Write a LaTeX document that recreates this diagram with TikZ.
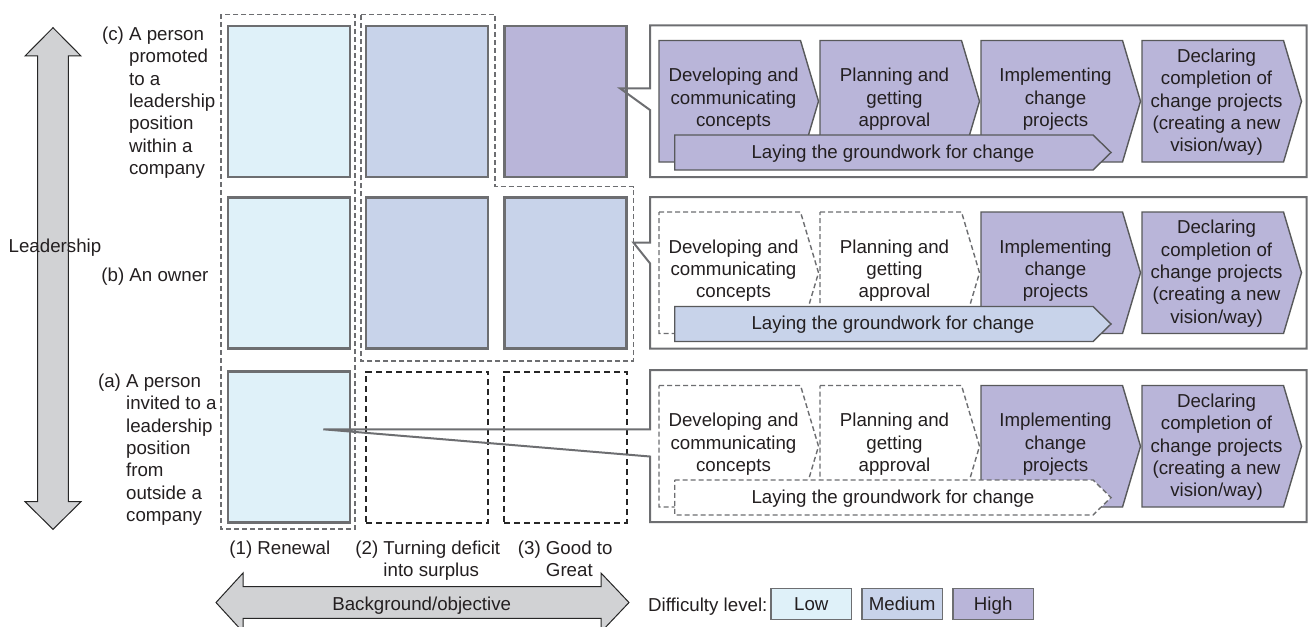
\documentclass[tikz,border=0pt]{standalone}
\usepackage{fontspec}
\setmainfont{Liberation Sans}

\definecolor{inkc}{HTML}{231F20}
\definecolor{edgec}{HTML}{6D6E71}
\definecolor{stagec}{HTML}{58595B}
\definecolor{arrowc}{HTML}{D1D2D4}
\definecolor{lowc}{HTML}{DFF1F9}
\definecolor{medc}{HTML}{C8D3EA}
\definecolor{highc}{HTML}{B9B5D9}

% pentagon stage: style, left x, top y, bottom y
\newcommand\stagepath[4]{%
  \path[#1] (#2,#3) -- ({#2+141.5},#3) -- ({#2+159.5},{(#3+#4)/2})
    -- ({#2+141.5},#4) -- (#2,#4) -- cycle;}
% groundwork arrow: style, top y, bottom y
\newcommand\basepath[3]{%
  \path[#1] (674.7,#2) -- (1093,#2) -- (1111,{(#2+#3)/2})
    -- (1093,#3) -- (674.7,#3) -- cycle;}
% one row of stages: top of frame, style of first two stages, style of base arrow, name prefix
\newcommand\stagerow[4]{%
  \pgfmathsetmacro\yStTop{#1+15}%
  \pgfmathsetmacro\yStBot{#1+136.5}%
  \pgfmathsetmacro\yTxtA{#1+75.75-2}%
  \pgfmathsetmacro\yTxtB{#1+75.75+1}%
  \pgfmathsetmacro\yBaseTop{#1+109.5}%
  \pgfmathsetmacro\yBaseBot{#1+144.5}%
  \pgfmathsetmacro\yBaseTxt{#1+127+1}%
  \stagepath{#2}{659}{\yStTop}{\yStBot}
  \stagepath{#2}{820}{\yStTop}{\yStBot}
  \stagepath{stage}{981}{\yStTop}{\yStBot}
  \stagepath{stage}{1142}{\yStTop}{\yStBot}
  \basepath{#3}{\yBaseTop}{\yBaseBot}
  \node[steptext] (#4-dev) at (733.5,\yTxtA) {Developing and\\communicating\\concepts};
  \node[steptext] (#4-plan) at (894.5,\yTxtA) {Planning and\\getting\\approval};
  \node[steptext] (#4-impl) at (1055.5,\yTxtA) {Implementing\\change\\projects};
  \node[steptext] (#4-decl) at (1216.5,\yTxtB) {Declaring\\completion of\\change projects\\(creating a new\\vision/way)};
  \node (#4-base) at (892.9,\yBaseTxt) {Laying the groundwork for change};
}

\begin{document}
\begin{tikzpicture}[x=0.5pt,y=-0.5pt,
  every node/.style={inner sep=0pt, text=inkc, font=\fontsize{9.35}{11.2}\selectfont},
  bigarrow/.style={draw=black!85, fill=arrowc, line width=0.5pt, line join=miter},
  cellbox/.style={draw=edgec, line width=1.2pt, minimum width=61pt, minimum height=75.5pt},
  emptycell/.style={draw=black!85, line width=1pt, dash pattern=on 3pt off 2pt},
  groupline/.style={draw=edgec, line width=0.75pt, dash pattern=on 2.5pt off 1.5pt},
  callout/.style={draw=edgec, line width=1pt, line join=miter},
  stage/.style={draw=stagec, fill=highc, line width=0.7pt, line join=miter},
  stagefree/.style={draw=edgec, fill=white, line width=0.7pt, dash pattern=on 2.5pt off 1.5pt},
  steptext/.style={align=center},
  legendbox/.style={draw=edgec, line width=0.8pt, minimum width=40.3pt, minimum height=15.5pt,
    text height=6.8pt, text depth=0.6pt}]
\useasboundingbox (0,0) rectangle (1309,626);

% axes
\path[bigarrow] (53,27.7) -- (81,56) -- (68.3,56) -- (68.3,501.7) -- (81,501.7) -- (53,529.3)
  -- (25,501.7) -- (37.7,501.7) -- (37.7,56) -- (25,56) -- cycle;
\node[anchor=base west] (leadlabel) at (8.3,252.7) {Leadership};

\path[bigarrow] (216,602.5) -- (243,573) -- (243,586.7) -- (601,586.7) -- (601,573) -- (629,602.5)
  -- (601,632) -- (601,618.3) -- (243,618.3) -- (243,632) -- cycle;
\node[anchor=base] (bglabel) at (421.7,610) {Background/objective};

% row labels
\node[anchor=base west] (rowc) at (101.7,40.3)
  {\begin{tabular}[t]{@{}l@{\ }l@{}}(c)&A person\\&promoted\\&to a\\&leadership\\&position\\&within a\\&company\end{tabular}};
\node[anchor=base west] (rowb) at (101,281) {(b) An owner};
\node[anchor=base west] (rowa) at (97.7,387.3)
  {\begin{tabular}[t]{@{}l@{\ }l@{}}(a)&A person\\&invited to a\\&leadership\\&position\\&from\\&outside a\\&company\end{tabular}};

% column labels
\node[anchor=base west] (col1) at (229,554) {(1) Renewal};
\node[anchor=base west] (col2) at (355,554)
  {\begin{tabular}[t]{@{}l@{\ }l@{}}(2)&Turning deficit\\&into surplus\end{tabular}};
\node[anchor=base west] (col3) at (517.5,554)
  {\begin{tabular}[t]{@{}l@{\ }l@{}}(3)&Good to\\&Great\end{tabular}};

% dashed groupings
\draw[groupline] (221,14.3) rectangle (355,529);
\draw[groupline] (361,14.3) -- (495,14.3) -- (495,186.7) -- (633.3,186.7) -- (633.3,361)
  -- (361,361) -- cycle;

% grid of cells
\node[cellbox, fill=lowc] (r3c1) at (289,101.5) {};
\node[cellbox, fill=medc] (r3c2) at (427,101.5) {};
\node[cellbox, fill=highc] (r3c3) at (565.5,101.5) {};
\node[cellbox, fill=lowc] (r2c1) at (289,273) {};
\node[cellbox, fill=medc] (r2c2) at (427,273) {};
\node[cellbox, fill=medc] (r2c3) at (565.5,273) {};
\node[cellbox, fill=lowc] (r1c1) at (289,447) {};
\node[emptycell, minimum width=61.2pt, minimum height=75.5pt] (r1c2) at (427.2,447.2) {};
\node[emptycell, minimum width=61.2pt, minimum height=75.5pt] (r1c3) at (565.5,447.2) {};

% callout frames
\coordinate (tipc) at (620,88.3);
\coordinate (tipb) at (633.5,242.7);
\coordinate (tipa) at (323.3,429.3);
\draw[callout] (650,88.3) -- (650,25.5) -- (1306.5,25.5) -- (1306.5,177) -- (650,177)
  -- (650,110) -- (tipc) -- cycle;
\draw[callout] (650,242.7) -- (650,197) -- (1306.5,197) -- (1306.5,348.5) -- (650,348.5)
  -- (650,263.3) -- (tipb) -- cycle;
\draw[callout] (650,429.3) -- (650,370) -- (1306.5,370) -- (1306.5,522) -- (650,522)
  -- (650,456.5) -- (tipa) -- cycle;

% stages in each frame
\stagerow{25.5}{stage}{stage}{sc}
\stagerow{197}{stagefree}{stage,fill=medc}{sb}
\stagerow{370.5}{stagefree}{stagefree}{sa}

% legend
\node[anchor=base west] (difflabel) at (647.8,611) {Difficulty level:};
\node[legendbox, fill=lowc] (lowkey) at (811.3,604) {Low};
\node[legendbox, fill=medc] (medkey) at (902.1,604) {Medium};
\node[legendbox, fill=highc] (highkey) at (993.2,604) {High};
\end{tikzpicture}
\end{document}
